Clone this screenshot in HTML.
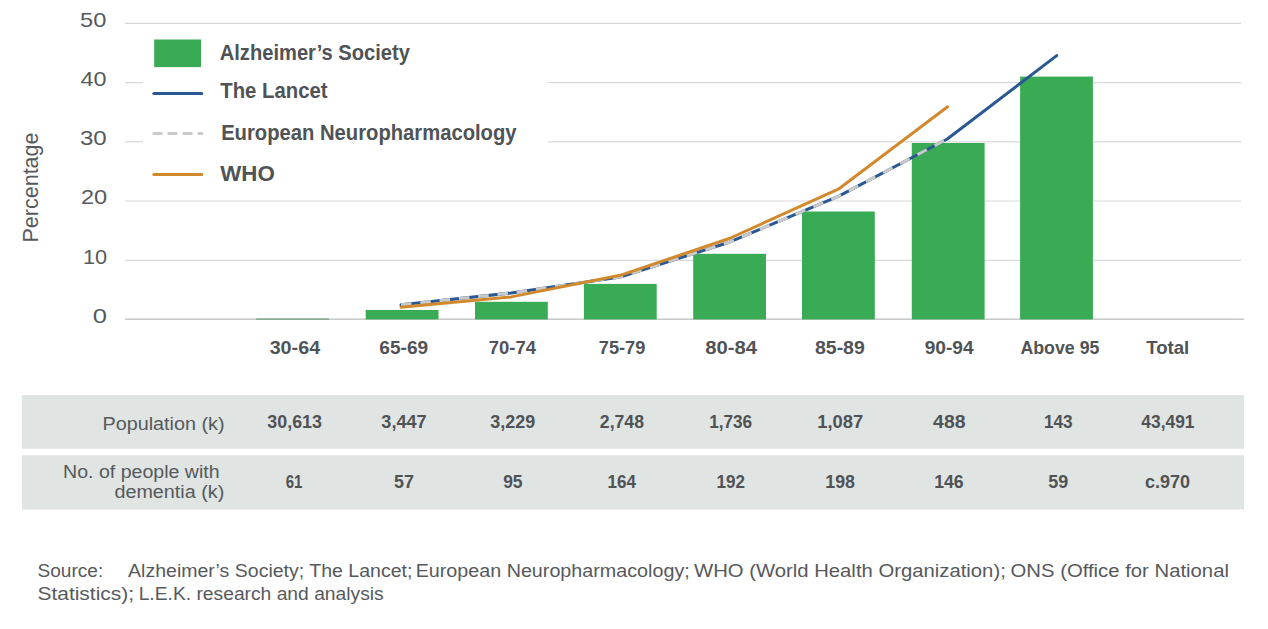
<!DOCTYPE html>
<html><head><meta charset="utf-8">
<style>
html,body{margin:0;padding:0;background:#fff;width:1268px;height:629px;overflow:hidden}
svg{display:block}
text{font-family:"Liberation Sans",sans-serif;fill:#56595c}
text.b{font-weight:bold;fill:#505356}
</style></head><body>
<svg width="1268" height="629" viewBox="0 0 1268 629">
<g stroke="#d8d9d9" stroke-width="1.2"><line x1="125" y1="23.4" x2="1241" y2="23.4"/><line x1="125" y1="82.6" x2="1241" y2="82.6"/><line x1="125" y1="141.8" x2="1241" y2="141.8"/><line x1="125" y1="201.0" x2="1241" y2="201.0"/><line x1="125" y1="260.3" x2="1241" y2="260.3"/></g>
<line x1="125" y1="319.2" x2="1244" y2="319.2" stroke="#c5c9c8" stroke-width="1.5"/>
<rect x="143" y="30" width="405" height="160" fill="#fff"/>
<g fill="#39ab55"><rect x="365.70" y="310.00" width="72.8" height="9.40"/><rect x="475.00" y="301.80" width="72.8" height="17.60"/><rect x="583.90" y="283.90" width="72.8" height="35.50"/><rect x="693.20" y="253.80" width="72.8" height="65.60"/><rect x="802.00" y="211.50" width="72.8" height="107.90"/><rect x="911.80" y="143.00" width="72.8" height="176.40"/><rect x="1020.10" y="76.60" width="72.8" height="242.80"/></g><rect x="256.2" y="318.3" width="72.8" height="1.6" fill="#86a890"/>
<polyline fill="none" stroke="#2a5893" stroke-width="3" stroke-linejoin="round" stroke-linecap="round" points="401.0,304.8 511.2,293.0 620.2,277.0 729.3,242.2 838.3,196.3 947.3,139.0 1056.7,55.6"/>
<polyline fill="none" stroke="#c9cac9" stroke-width="3" stroke-dasharray="10.6 8.8" stroke-dashoffset="0" stroke-linejoin="round" points="401.0,304.8 511.2,293.0 620.2,277.0 729.3,242.2 838.3,196.3 947.3,139.0"/>
<polyline fill="none" stroke="#d1892b" stroke-width="3" stroke-linejoin="round" stroke-linecap="round" points="401.0,307.2 511.2,296.9 620.2,275.3 729.3,238.5 838.3,189.2 947.6,106.8"/>
<rect x="154.2" y="39.5" width="46.8" height="27.6" fill="#39ab55"/>
<line x1="153.8" y1="93.4" x2="201.8" y2="93.4" stroke="#2a5893" stroke-width="3" stroke-linecap="round"/>
<line x1="153.8" y1="133.4" x2="201.8" y2="133.4" stroke="#c9cac9" stroke-width="3" stroke-linecap="round" stroke-dasharray="7.5 7.5"/>
<line x1="153.8" y1="174.4" x2="201.8" y2="174.4" stroke="#d1892b" stroke-width="3" stroke-linecap="round"/>
<rect x="22" y="395.1" width="1222" height="53.599999999999966" fill="#e0e4e2"/>
<rect x="22" y="455.3" width="1222" height="54.19999999999999" fill="#e0e4e2"/>
<text font-size="21.2" transform="translate(37.8,242.5) rotate(-90)" textLength="110" lengthAdjust="spacingAndGlyphs">Percentage</text>
<text x="80.12" y="26.70" font-size="21.0" textLength="26.30" lengthAdjust="spacingAndGlyphs">50</text>
<text x="80.47" y="85.90" font-size="21.0" textLength="25.98" lengthAdjust="spacingAndGlyphs">40</text>
<text x="79.98" y="145.10" font-size="21.0" textLength="26.76" lengthAdjust="spacingAndGlyphs">30</text>
<text x="80.94" y="204.30" font-size="21.0" textLength="26.20" lengthAdjust="spacingAndGlyphs">20</text>
<text x="83.01" y="263.50" font-size="21.0" textLength="24.10" lengthAdjust="spacingAndGlyphs">10</text>
<text x="92.89" y="322.70" font-size="21.0" textLength="14.23" lengthAdjust="spacingAndGlyphs">0</text>
<text x="219.76" y="59.90" font-size="21.6" class="b" textLength="190.07" lengthAdjust="spacingAndGlyphs">Alzheimer’s Society</text>
<text x="220.30" y="97.80" font-size="21.6" class="b" textLength="107.27" lengthAdjust="spacingAndGlyphs">The Lancet</text>
<text x="221.13" y="139.90" font-size="21.6" class="b" textLength="295.45" lengthAdjust="spacingAndGlyphs">European Neuropharmacology</text>
<text x="220.25" y="180.90" font-size="21.6" class="b" textLength="54.59" lengthAdjust="spacingAndGlyphs">WHO</text>
<text x="269.65" y="353.90" font-size="18.2" class="b" textLength="50.48" lengthAdjust="spacingAndGlyphs">30-64</text>
<text x="379.37" y="353.90" font-size="18.2" class="b" textLength="48.81" lengthAdjust="spacingAndGlyphs">65-69</text>
<text x="488.70" y="353.90" font-size="18.2" class="b" textLength="47.28" lengthAdjust="spacingAndGlyphs">70-74</text>
<text x="598.80" y="353.90" font-size="18.2" class="b" textLength="46.57" lengthAdjust="spacingAndGlyphs">75-79</text>
<text x="705.15" y="353.90" font-size="18.2" class="b" textLength="51.82" lengthAdjust="spacingAndGlyphs">80-84</text>
<text x="814.96" y="353.90" font-size="18.2" class="b" textLength="49.86" lengthAdjust="spacingAndGlyphs">85-89</text>
<text x="924.70" y="353.90" font-size="18.2" class="b" textLength="48.91" lengthAdjust="spacingAndGlyphs">90-94</text>
<text x="1020.46" y="353.70" font-size="18.2" class="b" textLength="78.94" lengthAdjust="spacingAndGlyphs">Above 95</text>
<text x="1146.22" y="353.70" font-size="18.2" class="b" textLength="42.98" lengthAdjust="spacingAndGlyphs">Total</text>
<text x="102.46" y="429.80" font-size="18.9" textLength="122.03" lengthAdjust="spacingAndGlyphs">Population (k)</text>
<text x="63.05" y="477.60" font-size="18.9" textLength="156.50" lengthAdjust="spacingAndGlyphs">No. of people with</text>
<text x="114.43" y="497.50" font-size="18.9" textLength="109.87" lengthAdjust="spacingAndGlyphs">dementia (k)</text>
<text x="267.37" y="427.90" font-size="18.2" class="b" textLength="54.63" lengthAdjust="spacingAndGlyphs">30,613</text>
<text x="381.35" y="427.90" font-size="18.2" class="b" textLength="45.28" lengthAdjust="spacingAndGlyphs">3,447</text>
<text x="490.35" y="427.90" font-size="18.2" class="b" textLength="44.86" lengthAdjust="spacingAndGlyphs">3,229</text>
<text x="599.85" y="427.90" font-size="18.2" class="b" textLength="44.15" lengthAdjust="spacingAndGlyphs">2,748</text>
<text x="709.18" y="427.90" font-size="18.2" class="b" textLength="42.99" lengthAdjust="spacingAndGlyphs">1,736</text>
<text x="817.35" y="427.90" font-size="18.2" class="b" textLength="45.80" lengthAdjust="spacingAndGlyphs">1,087</text>
<text x="933.11" y="427.90" font-size="18.2" class="b" textLength="32.34" lengthAdjust="spacingAndGlyphs">488</text>
<text x="1043.89" y="427.90" font-size="18.2" class="b" textLength="28.69" lengthAdjust="spacingAndGlyphs">143</text>
<text x="1141.32" y="427.90" font-size="18.2" class="b" textLength="53.20" lengthAdjust="spacingAndGlyphs">43,491</text>
<text x="285.65" y="487.80" font-size="18.2" class="b" textLength="16.67" lengthAdjust="spacingAndGlyphs">61</text>
<text x="394.09" y="487.80" font-size="18.2" class="b" textLength="19.89" lengthAdjust="spacingAndGlyphs">57</text>
<text x="503.18" y="487.80" font-size="18.2" class="b" textLength="19.40" lengthAdjust="spacingAndGlyphs">95</text>
<text x="607.47" y="487.80" font-size="18.2" class="b" textLength="28.44" lengthAdjust="spacingAndGlyphs">164</text>
<text x="716.50" y="487.80" font-size="18.2" class="b" textLength="28.49" lengthAdjust="spacingAndGlyphs">192</text>
<text x="825.27" y="487.80" font-size="18.2" class="b" textLength="29.62" lengthAdjust="spacingAndGlyphs">198</text>
<text x="934.16" y="487.80" font-size="18.2" class="b" textLength="29.39" lengthAdjust="spacingAndGlyphs">146</text>
<text x="1048.18" y="487.80" font-size="18.2" class="b" textLength="20.00" lengthAdjust="spacingAndGlyphs">59</text>
<text x="1144.90" y="487.80" font-size="18.2" class="b" textLength="45.12" lengthAdjust="spacingAndGlyphs">c.970</text>
<text x="37.55" y="577.00" font-size="18.75" textLength="65.63" lengthAdjust="spacingAndGlyphs">Source:</text>
<text x="128.05" y="577.00" font-size="18.75" textLength="284.37" lengthAdjust="spacingAndGlyphs">Alzheimer’s Society; The Lancet;</text>
<text x="415.65" y="577.00" font-size="18.75" textLength="274.10" lengthAdjust="spacingAndGlyphs">European Neuropharmacology;</text>
<text x="694.04" y="577.00" font-size="18.75" textLength="311.73" lengthAdjust="spacingAndGlyphs">WHO (World Health Organization);</text>
<text x="1010.52" y="577.00" font-size="18.75" textLength="218.41" lengthAdjust="spacingAndGlyphs">ONS (Office for National</text>
<text x="37.43" y="599.80" font-size="18.75" textLength="96.70" lengthAdjust="spacingAndGlyphs">Statistics);</text>
<text x="138.66" y="599.80" font-size="18.75" textLength="245.02" lengthAdjust="spacingAndGlyphs">L.E.K. research and analysis</text>
</svg>
</body></html>
